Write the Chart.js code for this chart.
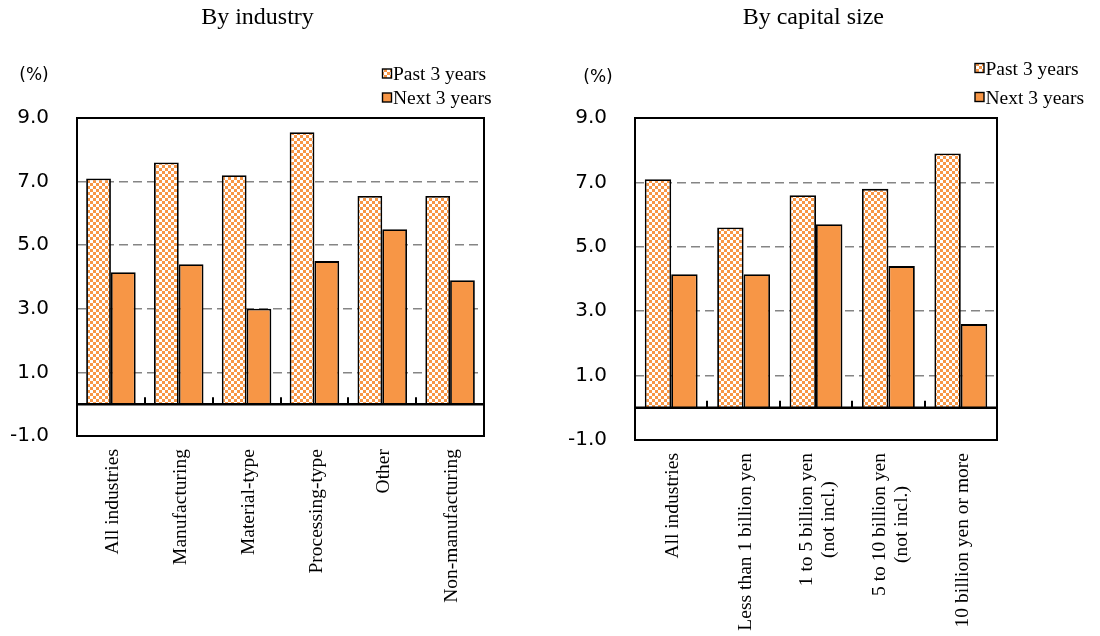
<!DOCTYPE html>
<html>
<head>
<meta charset="utf-8">
<script src="https://cdn.jsdelivr.net/npm/chart.js@4.4.1/dist/chart.umd.min.js"></script>
<style>
  html, body { margin: 0; padding: 0; background: #fff; width: 1100px; height: 636px; overflow: hidden; }
  .panel { position: absolute; top: 0; }
</style>
</head>
<body>
<div class="panel" style="left:0"><canvas id="industry" width="515" height="636"></canvas></div>
<div class="panel" style="left:526px"><canvas id="capital" width="574" height="636"></canvas></div>
<script>
// Series names and the y-axis ticks shared by both panels
const seriesNames = ['Past 3 years', 'Next 3 years'];
const yTickValues = [-1, 0, 1, 3, 5, 7, 9];
const dashedGridValues = [1, 3, 5, 7];

// Panel 1: by industry
const industryCategories = ['All industries', 'Manufacturing', 'Material-type', 'Processing-type', 'Other', 'Non-manufacturing'];
const industryPast = [7.1, 7.6, 7.2, 8.55, 6.55, 6.55];
const industryNext = [4.15, 4.4, 3.0, 4.5, 5.5, 3.9];

// Panel 2: by capital size
const capitalCategories = ['All industries', 'Less than 1 billion yen', ['1 to 5 billion yen', '(not incl.)'], ['5 to 10 billion yen', '(not incl.)'], '10 billion yen or more'];
const capitalPast = [7.1, 5.6, 6.6, 6.8, 7.9];
const capitalNext = [4.15, 4.15, 5.7, 4.4, 2.6];

const ORANGE = '#F79646';

// Orange/white checkerboard used for the "past" bars
function makeChecker() {
  const c = document.createElement('canvas');
  c.width = 6; c.height = 6;
  const g = c.getContext('2d');
  g.fillStyle = ORANGE;
  g.fillRect(0, 0, 6, 6);
  g.fillStyle = '#ffffff';
  g.fillRect(0, 0, 3, 3);
  g.fillRect(3, 3, 3, 3);
  return g.createPattern(c, 'repeat');
}

// Plot frame, zero line and the short boundary ticks on the zero line
const framePlugin = {
  id: 'frame',
  afterDatasetsDraw(chart) {
    const { ctx, chartArea: a, scales: { x, y } } = chart;
    const zero = y.getPixelForValue(0);
    const n = chart.data.labels.length;
    ctx.save();
    ctx.strokeStyle = '#000';
    ctx.lineWidth = 2;
    for (let i = 1; i < n; i++) {
      const bx = Math.round((x.getPixelForValue(i - 1) + x.getPixelForValue(i)) / 2);
      ctx.beginPath();
      ctx.moveTo(bx, zero);
      ctx.lineTo(bx, zero - 7);
      ctx.stroke();
    }
    ctx.lineWidth = 2.5;
    ctx.beginPath();
    ctx.moveTo(a.left, zero);
    ctx.lineTo(a.right, zero);
    ctx.stroke();
    ctx.lineWidth = 2;
    ctx.strokeRect(a.left, a.top, a.right - a.left, a.bottom - a.top);
    ctx.restore();
  }
};

// Panel title, unit label, legend and the vertical category labels
const decorPlugin = {
  id: 'decor',
  afterDraw(chart, args, o) {
    const { ctx, chartArea: a, scales: { x } } = chart;
    ctx.save();
    ctx.fillStyle = '#000';

    ctx.font = '24px "Liberation Serif"';
    ctx.textAlign = 'center';
    ctx.textBaseline = 'alphabetic';
    ctx.fillText(o.title, o.titleX, 23.5);

    ctx.font = '17px "DejaVu Sans"';
    ctx.textBaseline = 'middle';
    ctx.fillText('(%)', o.unitX, o.unitY);

    // legend
    ctx.font = '19.5px "Liberation Serif"';
    ctx.textAlign = 'left';
    ctx.textBaseline = 'alphabetic';
    chart.data.datasets.forEach((ds, i) => {
      const base = o.legendBaselines[i];
      const sy = base - 6.5 - 4.5;
      ctx.fillStyle = ds.backgroundColor;
      ctx.fillRect(o.legendX, sy, 9, 9);
      ctx.strokeStyle = '#000';
      ctx.lineWidth = 1.4;
      ctx.strokeRect(o.legendX, sy, 9, 9);
      ctx.fillStyle = '#000';
      ctx.fillText(ds.label, o.legendX + 10.5, base);
    });

    // category labels, read bottom-to-top, ending just under the frame
    ctx.font = '19.5px "Liberation Serif"';
    ctx.textAlign = 'center';
    ctx.textBaseline = 'middle';
    const top = a.bottom + 13;
    chart.data.labels.forEach((lab, i) => {
      const lines = Array.isArray(lab) ? lab : [lab];
      const maxW = Math.max(...lines.map(l => ctx.measureText(l).width));
      ctx.save();
      ctx.translate(x.getPixelForValue(i) + 2, top);
      ctx.rotate(-Math.PI / 2);
      lines.forEach((l, j) => {
        ctx.fillText(l, -maxW / 2, (j - (lines.length - 1) / 2) * 22);
      });
      ctx.restore();
    });
    ctx.restore();
  }
};

function buildChart(id, categories, past, next, layout, decor) {
  const checker = makeChecker();
  return new Chart(document.getElementById(id), {
    type: 'bar',
    data: {
      labels: categories,
      datasets: [
        { label: seriesNames[0], data: past, backgroundColor: checker, borderColor: '#000', borderWidth: 1.8 },
        { label: seriesNames[1], data: next, backgroundColor: ORANGE, borderColor: '#000', borderWidth: 1.8 }
      ]
    },
    options: {
      responsive: false,
      animation: false,
      devicePixelRatio: 1,
      events: [],
      layout: { padding: layout.padding },
      datasets: { bar: { categoryPercentage: 0.73, barPercentage: 1.0 } },
      plugins: {
        legend: { display: false },
        title: { display: false },
        tooltip: { enabled: false },
        decor: decor
      },
      scales: {
        x: { display: false, offset: true, ticks: { autoSkip: false } },
        y: {
          min: -1,
          max: 9,
          afterFit: s => { s.width = layout.yWidth; },
          afterBuildTicks: s => { s.ticks = yTickValues.map(v => ({ value: v })); },
          ticks: {
            padding: 28,
            color: '#000',
            autoSkip: false,
            font: { family: 'DejaVu Sans', size: 20 },
            callback: v => (v === 0 ? '' : Number(v).toFixed(1))
          },
          grid: {
            drawTicks: false,
            color: c => (c.tick && dashedGridValues.includes(c.tick.value) ? '#858585' : 'rgba(0,0,0,0)'),
            lineWidth: 1.5
          },
          border: { display: false, dash: [9, 5] }
        }
      }
    },
    plugins: [framePlugin, decorPlugin]
  });
}

buildChart('industry', industryCategories, industryPast, industryNext,
  { yWidth: 77, padding: { top: 118, right: 31, bottom: 200, left: 0 } },
  { title: 'By industry', titleX: 257.5, unitX: 34, unitY: 75.5, legendX: 382.5, legendBaselines: [80, 104] });

buildChart('capital', capitalCategories, capitalPast, capitalNext,
  { yWidth: 109, padding: { top: 118, right: 103, bottom: 196, left: 0 } },
  { title: 'By capital size', titleX: 287.3, unitX: 72, unitY: 78, legendX: 449, legendBaselines: [74.5, 103.5] });
</script>
</body>
</html>
